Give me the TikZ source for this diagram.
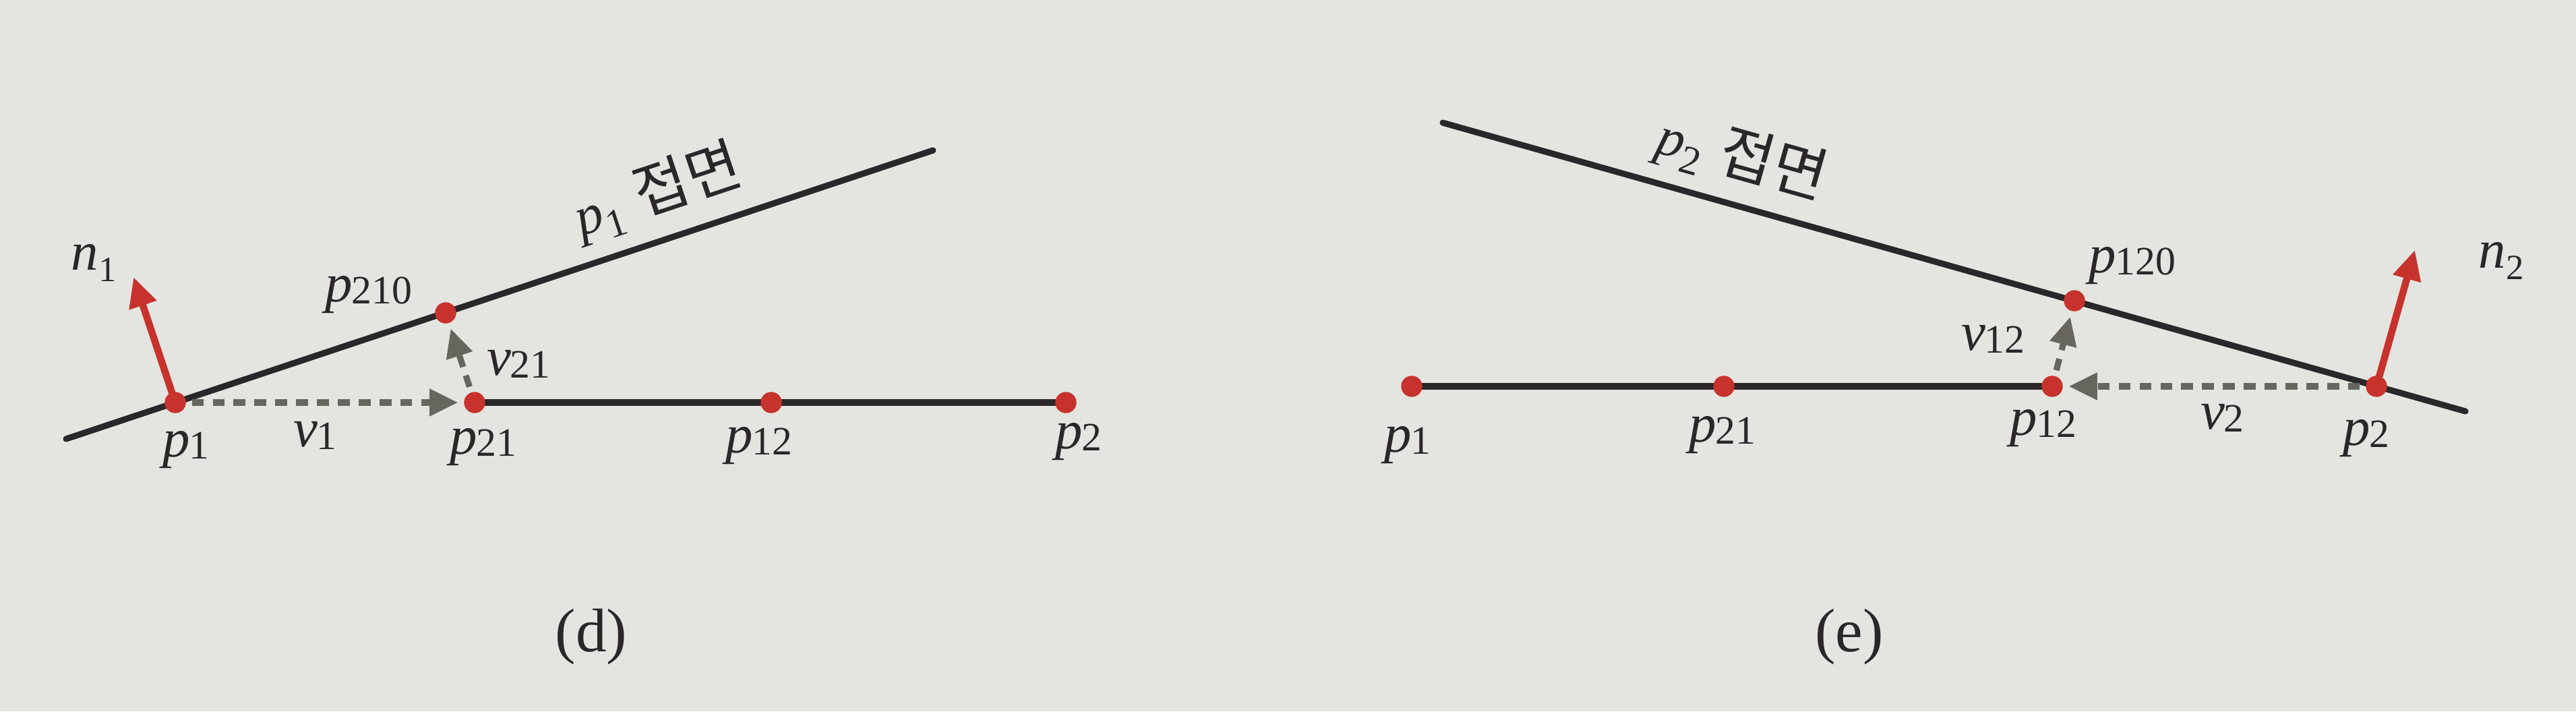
\documentclass[tikz,border=0pt]{standalone}
\usepackage{fontspec}
\setmainfont{Liberation Serif}
\newfontfamily\kofont{Noto Sans CJK KR}
\usetikzlibrary{arrows.meta}

\definecolor{paper}{HTML}{E4E5E1}
\definecolor{ink}{HTML}{2A272A}
\definecolor{dotred}{HTML}{C8322C}
\definecolor{vecgray}{HTML}{66665F}

% point name with big lowered digits, and a true subscript
\newcommand{\ptname}[2]{\textit{#1}\kern-0.5pt\raisebox{-1pt}{\fontsize{17}{17}\selectfont #2}}
\newcommand{\subname}[2]{\textit{#1}\raisebox{-5pt}{\fontsize{15}{15}\selectfont #2}}
\newcommand{\planename}[1]{\textit{p}\raisebox{-5pt}{\fontsize{17}{17}\selectfont #1}\hspace{7pt}{\kofont\fontsize{25}{28}\selectfont 접면}}

\tikzset{
  plane/.style={ink, line width=2.6pt, line cap=round},
  segment/.style={ink, line width=2.7pt},
  normal/.style={dotred, line width=3pt, -{Triangle[length=12.5pt,width=11.5pt]}},
  move/.style={vecgray, line width=2.6pt, dash pattern=on 5pt off 3.8pt,
    -{Triangle[length=12pt,width=11pt]}, shorten <=7pt, shorten >=7pt},
  lbl/.style={text=ink, font=\fontsize{23}{27}\selectfont, inner sep=0pt},
  caption/.style={text=ink, font=\fontsize{26}{30}\selectfont, inner sep=0pt},
}

\begin{document}
\begin{tikzpicture}

    % Paper
    \fill[paper] (0,0) rectangle (38.21,10.55);
    \useasboundingbox (0,0) rectangle (38.21,10.55);

    % ---------- (d) ----------
    % Define the points
    \coordinate (dA) at (0.98, 4.04);
    \coordinate (dB) at (13.84, 8.32);
    \coordinate (dP1) at (2.60, 4.58);
    \coordinate (dP210) at (6.61, 5.91);
    \coordinate (dP21) at (7.04, 4.58);
    \coordinate (dP12) at (11.44, 4.58);
    \coordinate (dP2) at (15.81, 4.58);

    % Tangent plane and the segment
    \draw[plane] (dA) -- (dB)
        node[lbl, pos=0.70, sloped, above=6pt] {\planename{1}};
    \draw[segment] (dP21) -- (dP2);

    % Normal and moves
    \draw[normal] (dP1) -- ++(108.4:1.96);
    \draw[move] (dP1) -- (dP21);
    \draw[move] (dP21) -- (dP210);

    % Dots
    \filldraw[dotred] (dP1) circle (0.15);
    \filldraw[dotred] (dP210) circle (0.15);
    \filldraw[dotred] (dP21) circle (0.15);
    \filldraw[dotred] (dP12) circle (0.15);
    \filldraw[dotred] (dP2) circle (0.15);

    % Labels
    \node[lbl] (dN1l) at (1.39, 6.65) {\subname{n}{1}};
    \node[lbl] (dP210l) at (5.47, 6.18) {\ptname{p}{210}};
    \node[lbl] (dP1l) at (2.76, 3.88) {\ptname{p}{1}};
    \node[lbl] (dV1l) at (4.67, 4.09) {\ptname{v}{1}};
    \node[lbl] (dV21l) at (7.69, 5.15) {\ptname{v}{21}};
    \node[lbl] (dP21l) at (7.17, 3.92) {\ptname{p}{21}};
    \node[lbl] (dP12l) at (11.26, 3.94) {\ptname{p}{12}};
    \node[lbl] (dP2l) at (16.00, 4.00) {\ptname{p}{2}};
    \node[caption] (dcap) at (8.77, 1.10) {(d)};

    % ---------- (e) ----------
    % Define the points
    \coordinate (eA) at (21.40, 8.73);
    \coordinate (eB) at (36.57, 4.45);
    \coordinate (eP1) at (20.94, 4.82);
    \coordinate (eP21) at (25.57, 4.82);
    \coordinate (eP12) at (30.44, 4.82);
    \coordinate (eP120) at (30.77, 6.09);
    \coordinate (eP2) at (35.25, 4.82);

    % Tangent plane and the segment
    \draw[plane] (eA) -- (eB)
        node[lbl, pos=0.28, sloped, above=6pt] {\planename{2}};
    \draw[segment] (eP1) -- (eP12);

    % Normal and moves
    \draw[normal] (eP2) -- ++(74.25:2.10);
    \draw[move] (eP2) -- (eP12);
    \draw[move] (eP12) -- (eP120);

    % Dots
    \filldraw[dotred] (eP1) circle (0.15);
    \filldraw[dotred] (eP21) circle (0.15);
    \filldraw[dotred] (eP12) circle (0.15);
    \filldraw[dotred] (eP120) circle (0.15);
    \filldraw[dotred] (eP2) circle (0.15);

    % Labels
    \node[lbl] (eP1l) at (20.88, 3.95) {\ptname{p}{1}};
    \node[lbl] (eP21l) at (25.55, 4.10) {\ptname{p}{21}};
    \node[lbl] (eP12l) at (30.31, 4.20) {\ptname{p}{12}};
    \node[lbl] (eP2l) at (35.10, 4.05) {\ptname{p}{2}};
    \node[lbl] (eV2l) at (32.96, 4.35) {\ptname{v}{2}};
    \node[lbl] (eV12l) at (29.56, 5.52) {\ptname{v}{12}};
    \node[lbl] (eP120l) at (31.63, 6.61) {\ptname{p}{120}};
    \node[lbl] (eN2l) at (37.10, 6.68) {\subname{n}{2}};
    \node[caption] (ecap) at (27.43, 1.10) {(e)};

\end{tikzpicture}
\end{document}
